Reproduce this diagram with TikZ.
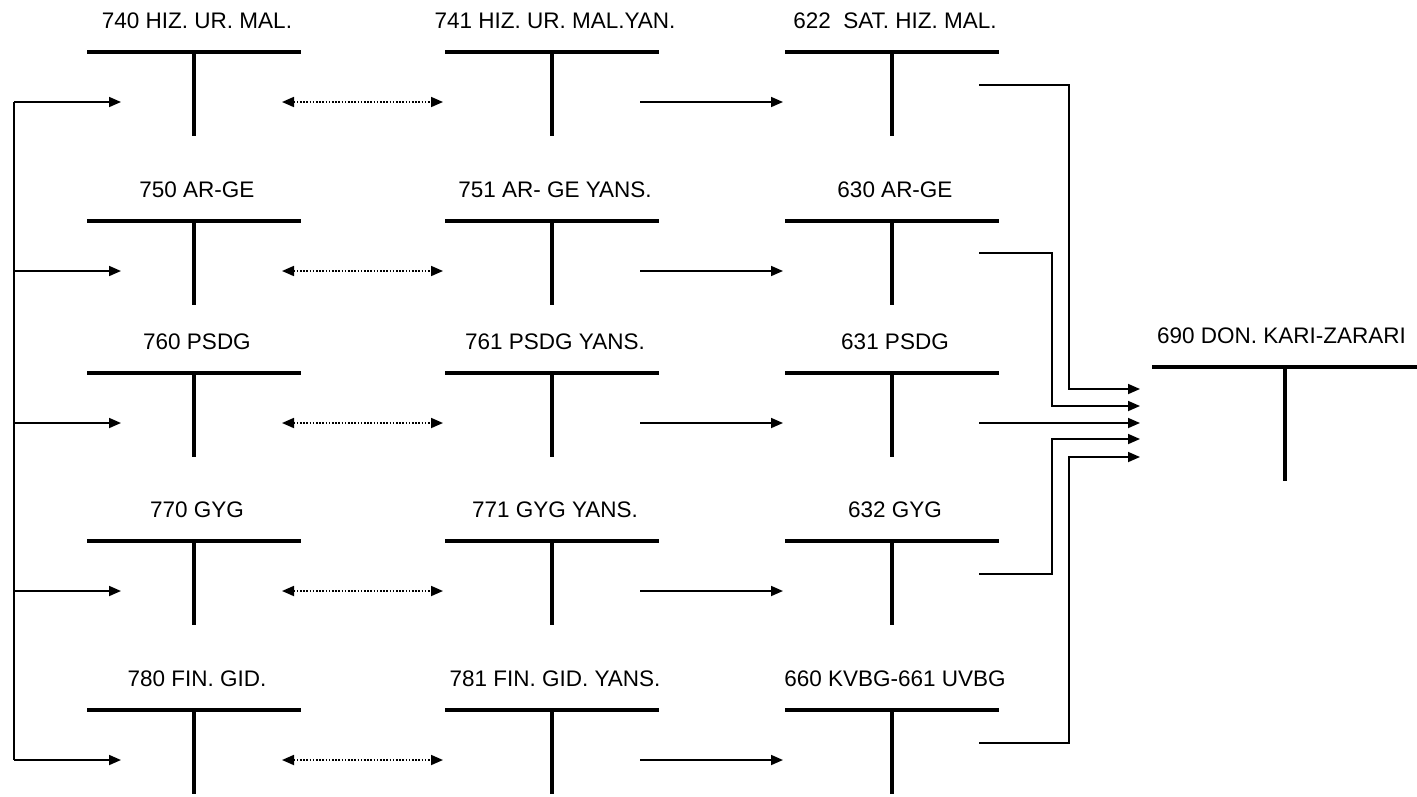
\documentclass[tikz,border=0pt]{standalone}
\usepackage{fontspec}
\setmainfont{Liberation Sans}
\usetikzlibrary{arrows.meta}
\tikzset{
  bar/.style={line width=4pt},
  lbl/.style={anchor=base, inner sep=0pt, font=\fontsize{22.5}{26}\selectfont},
  conn/.style={line width=1.7pt},
  tip/.tip={Triangle[length=12pt,width=10pt]},
  arr/.style={line width=1.7pt, -tip},
  darr/.style={line width=1.7pt, dash pattern=on 1.6pt off 1.6pt, tip-tip},
}
% #1 name, #2 stem x, #3 bar y, #4 label
\newcommand\tacct[4]{%
  \coordinate (#1) at (#2,#3);
  \node[lbl] (#1-l) at (#2+3,#3-24) {#4};
  \draw[bar] (#2-107,#3) -- (#2+107,#3);
  \draw[bar] (#2,#3) -- (#2,#3+84);
  \coordinate (#1-w) at (#2-109,#3+50);
  \coordinate (#1-in) at (#2-73,#3+50);
  \coordinate (#1-e) at (#2+88,#3+50);
}
\begin{document}
\begin{tikzpicture}[x=1pt,y=-1pt]
\useasboundingbox (0,0) rectangle (1417,796);
% column 1
\tacct{a1}{194}{52}{740 HIZ. UR. MAL.}
\tacct{a2}{194}{221}{750 AR-GE}
\tacct{a3}{194}{373}{760 PSDG}
\tacct{a4}{194}{541}{770 GYG}
\tacct{a5}{194}{710}{780 FIN. GID.}
% column 2
\tacct{b1}{552}{52}{741 HIZ. UR. MAL.YAN.}
\tacct{b2}{552}{221}{751 AR- GE YANS.}
\tacct{b3}{552}{373}{761 PSDG YANS.}
\tacct{b4}{552}{541}{771 GYG YANS.}
\tacct{b5}{552}{710}{781 FIN. GID. YANS.}
% column 3
\tacct{c1}{892}{52}{622\ \ SAT. HIZ. MAL.}
\tacct{c2}{892}{221}{630 AR-GE}
\tacct{c3}{892}{373}{631 PSDG}
\tacct{c4}{892}{541}{632 GYG}
\tacct{c5}{892}{710}{660 KVBG-661 UVBG}
% result account
\node[lbl, anchor=base west] (s-l) at (1157,343) {690 DON. KARI-ZARARI};
\coordinate (s) at (1285,367);
\draw[bar] (1152,367) -- (1420,367);
\draw[bar] (s) -- (1285,481);
\coordinate (s-i1) at (1140,389);
\coordinate (s-i2) at (1140,406);
\coordinate (s-i3) at (1140,423);
\coordinate (s-i4) at (1140,439);
\coordinate (s-i5) at (1140,457);
% left feed line
\coordinate (Lx) at (14,0);
\foreach \r in {1,...,5}{
  \coordinate (L\r) at (Lx |- a\r-in);
}
\draw[conn] (L1) -- (L5);
\foreach \r in {1,...,5}{
  \draw[arr] (L\r) -- (a\r-in);
  \draw[darr] (a\r-e) -- (b\r-w);
  \draw[arr] (b\r-e) -- (c\r-w);
}
% outputs of column 3
\coordinate (c1-o) at (979,85);
\coordinate (c2-o) at (979,253);
\coordinate (c3-o) at (979,423);
\coordinate (c4-o) at (979,574);
\coordinate (c5-o) at (979,743);
\draw[arr] (c1-o) -- ++(90,0) |- (s-i1);
\draw[arr] (c2-o) -- ++(73,0) |- (s-i2);
\draw[arr] (c3-o) -- (s-i3);
\draw[arr] (c4-o) -- ++(73,0) |- (s-i4);
\draw[arr] (c5-o) -- ++(90,0) |- (s-i5);
\end{tikzpicture}
\end{document}
